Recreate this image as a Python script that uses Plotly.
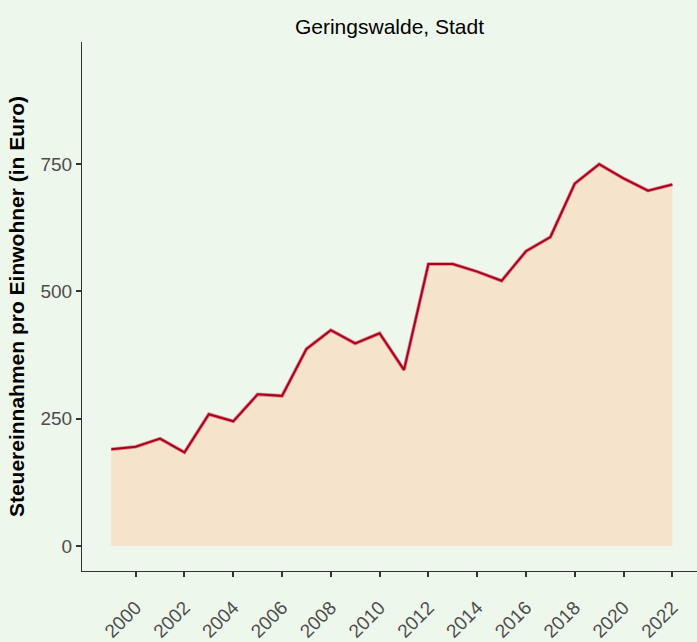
import plotly.graph_objects as go

years = list(range(1999, 2023))
values = [190, 195, 211, 184, 259, 245, 298, 295, 387, 424, 398, 418,
          346, 554, 554, 539, 521, 579, 607, 712, 750, 722, 698, 710]
tick_years = list(range(2000, 2023, 2))
y_ticks = [0, 250, 500, 750]

title = "Geringswalde, Stadt"
y_title = "Steuereinnahmen pro Einwohner (in Euro)"

BG = "#EDF7EC"
FILL = "#F5E3CC"
LINE_DARK = "#A8001E"
LINE_SOFT = "rgba(205,40,70,0.55)"
AXIS = "#333333"
FONT = "Liberation Sans, Arial, sans-serif"

fig = go.Figure()
fig.add_trace(go.Scatter(x=years, y=values, mode="lines", fill="tozeroy",
                         fillcolor=FILL, line=dict(width=0, color=FILL),
                         hoverinfo="skip", showlegend=False))
fig.add_trace(go.Scatter(x=years, y=values, mode="lines",
                         line=dict(color=LINE_SOFT, width=3.6),
                         hoverinfo="skip", showlegend=False))
fig.add_trace(go.Scatter(x=years, y=values, mode="lines",
                         line=dict(color=LINE_DARK, width=2),
                         showlegend=False))

fig.update_layout(
    width=697, height=642,
    paper_bgcolor=BG, plot_bgcolor=BG,
    margin=dict(l=82, r=0, t=42, b=71, autoexpand=False),
    font=dict(family=FONT, color="#000000"),
    title=dict(text=title, x=(82 + 697) / 2 / 697, xanchor="center",
               y=1 - 27 / 642, yanchor="middle",
               font=dict(size=21, color="#000000", family=FONT)),
)
fig.update_xaxes(
    range=[1997.8, 2023.01], tickmode="array", tickvals=tick_years,
    ticktext=[str(t) for t in tick_years], tickangle=-45, automargin=False,
    showgrid=False, zeroline=False, showline=True, linecolor=AXIS, linewidth=1.2,
    ticks="outside", ticklen=5, tickwidth=1.5, tickcolor=AXIS,
    tickfont=dict(size=19, color="#4D4D4D", family=FONT),
    ticklabelstandoff=12,
)
fig.update_yaxes(
    range=[-49, 990], tickmode="array", tickvals=y_ticks,
    ticktext=[str(t) for t in y_ticks], automargin=False,
    showgrid=False, zeroline=False, showline=True, linecolor=AXIS, linewidth=1.2,
    ticks="outside", ticklen=5, tickwidth=1.5, tickcolor=AXIS,
    tickfont=dict(size=19, color="#4D4D4D", family=FONT),
    ticklabelstandoff=0,
    title=dict(text="<b>" + y_title + "</b>", standoff=10,
               font=dict(size=21, color="#000000", family=FONT)),
)

fig.write_html("out.html", config={"displayModeBar": False},
               post_script="document.body.style.margin='0px';document.body.style.background='" + BG + "';")
